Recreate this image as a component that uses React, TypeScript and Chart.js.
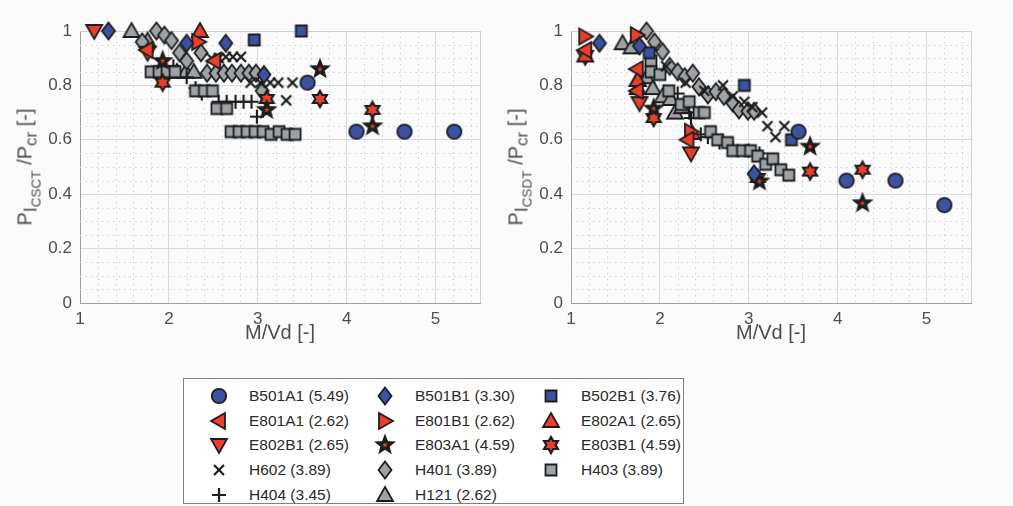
import React, { useEffect, useRef } from 'react';
import { Chart, registerables } from 'chart.js';
Chart.register(...registerables);

const FONT = '"Liberation Sans", Arial, Helvetica, sans-serif';
const BLUE = '#3d51a3';
const RED = '#ea402b';
const GRAY = '#9da2a7';
const EDGE = '#1d1d1d';
const TICK = '#4d4d4d';
const GRID = '#d8dbdf';
const AXIS = '#9aa1a9';

type Pt = [number, number];

// ---- CSCT (left panel) ----
const B501A1_L: Pt[] = [[3.56, 0.81], [4.11, 0.63], [4.65, 0.63], [5.21, 0.63]];
const B501B1_L: Pt[] = [[1.32, 1.0], [2.2, 0.955], [2.64, 0.955], [3.07, 0.84]];
const B502B1_L: Pt[] = [[2.96, 0.967], [3.49, 1.0]];
const E801A1_L: Pt[] = [[1.75, 0.93], [2.51, 0.89]];
const E801B1_L: Pt[] = [[2.33, 0.96]];
const E802A1_L: Pt[] = [[2.35, 1.0]];
const E802B1_L: Pt[] = [[1.16, 1.0], [1.76, 0.92]];
const E803A1_L: Pt[] = [[1.93, 0.89], [3.1, 0.71], [3.7, 0.86], [4.29, 0.65]];
const E803B1_L: Pt[] = [[1.93, 0.81], [3.1, 0.75], [3.7, 0.75], [4.29, 0.71]];
const H602_L: Pt[] = [[2.48, 0.9], [2.56, 0.9], [2.64, 0.905], [2.72, 0.905], [2.81, 0.905], [2.92, 0.81], [3.03, 0.81], [3.14, 0.81], [3.23, 0.81], [3.39, 0.81], [3.32, 0.745]];
const H401_L: Pt[] = [[1.7, 0.96], [1.86, 1.0], [1.95, 0.985], [2.03, 0.965], [2.12, 0.92], [2.2, 0.89], [2.36, 0.92], [2.43, 0.845], [2.53, 0.845], [2.62, 0.845], [2.71, 0.845], [2.81, 0.845], [2.9, 0.845], [2.98, 0.845], [3.05, 0.78]];
const H403_L: Pt[] = [[1.8, 0.85], [1.89, 0.85], [1.98, 0.85], [2.07, 0.85], [2.3, 0.78], [2.4, 0.78], [2.49, 0.78], [2.54, 0.715], [2.65, 0.715], [2.7, 0.63], [2.79, 0.63], [2.88, 0.63], [2.97, 0.63], [3.06, 0.63], [3.15, 0.62], [3.24, 0.63], [3.33, 0.62], [3.42, 0.62]];
const H404_L: Pt[] = [[1.93, 0.87], [2.05, 0.87], [2.2, 0.83], [2.3, 0.79], [2.37, 0.77], [2.56, 0.74], [2.65, 0.74], [2.75, 0.74], [2.84, 0.74], [2.93, 0.74], [2.99, 0.685]];
const H121_L: Pt[] = [[1.58, 1.0], [1.76, 0.965], [2.09, 0.85], [2.19, 0.85], [2.28, 0.85]];

// ---- CSDT (right panel) ----
const B501A1_R: Pt[] = [[3.56, 0.63], [4.1, 0.45], [4.65, 0.45], [5.2, 0.36]];
const B501B1_R: Pt[] = [[1.32, 0.955], [1.77, 0.945], [3.06, 0.475]];
const B502B1_R: Pt[] = [[1.88, 0.92], [2.95, 0.8], [3.48, 0.6]];
const E801A1_R: Pt[] = [[1.16, 0.93], [1.74, 0.86], [1.74, 0.78], [2.31, 0.6]];
const E801B1_R: Pt[] = [[1.16, 0.98], [1.74, 0.985], [2.35, 0.63]];
const E802A1_R: Pt[] = [[1.16, 0.91], [1.75, 0.82], [2.36, 0.625]];
const E802B1_R: Pt[] = [[1.16, 0.905], [1.77, 0.735], [2.35, 0.55]];
const E803A1_R: Pt[] = [[1.93, 0.715], [3.12, 0.447], [3.69, 0.575], [4.28, 0.367]];
const E803B1_R: Pt[] = [[1.93, 0.68], [3.1, 0.46], [3.69, 0.483], [4.28, 0.49]];
const H602_R: Pt[] = [[2.07, 0.87], [2.29, 0.81], [2.5, 0.78], [2.71, 0.8], [2.82, 0.76], [2.95, 0.74], [3.04, 0.72], [3.15, 0.7], [3.21, 0.65], [3.3, 0.61], [3.4, 0.65]];
const H401_R: Pt[] = [[1.85, 1.0], [1.94, 0.96], [2.03, 0.924], [2.11, 0.87], [2.2, 0.85], [2.28, 0.832], [2.37, 0.845], [2.44, 0.795], [2.54, 0.765], [2.63, 0.777], [2.72, 0.76], [2.82, 0.735], [2.89, 0.71], [2.99, 0.705], [3.06, 0.705]];
const H403_R: Pt[] = [[1.9, 0.89], [1.9, 0.85], [2.0, 0.84], [2.1, 0.78], [2.24, 0.73], [2.33, 0.74], [2.44, 0.7], [2.5, 0.7], [2.57, 0.63], [2.65, 0.6], [2.76, 0.59], [2.82, 0.56], [2.93, 0.56], [3.02, 0.56], [3.1, 0.54], [3.19, 0.51], [3.27, 0.53], [3.36, 0.49], [3.45, 0.47]];
const H404_R: Pt[] = [[1.92, 0.93], [2.05, 0.85], [2.2, 0.77], [2.33, 0.7], [2.35, 0.68], [2.46, 0.62], [2.54, 0.61], [2.67, 0.59], [2.82, 0.57], [3.0, 0.56], [3.12, 0.55]];
const H121_R: Pt[] = [[1.58, 0.955], [1.68, 0.94], [1.75, 0.82], [1.75, 0.79], [1.85, 0.83], [1.92, 0.79], [2.03, 0.76], [2.12, 0.75], [2.17, 0.7], [2.25, 0.72]];

const X_TICKS = [1, 2, 3, 4, 5];
const Y_TICKS = [0, 0.2, 0.4, 0.6, 0.8, 1];

type Series = { name: string; shape: string; fill: string; left: Pt[]; right: Pt[] };
const SERIES: Series[] = [
  { name: 'B501A1 (5.49)', shape: 'circle', fill: BLUE, left: B501A1_L, right: B501A1_R },
  { name: 'B501B1 (3.30)', shape: 'diamond', fill: BLUE, left: B501B1_L, right: B501B1_R },
  { name: 'B502B1 (3.76)', shape: 'square', fill: BLUE, left: B502B1_L, right: B502B1_R },
  { name: 'E801A1 (2.62)', shape: 'triLeft', fill: RED, left: E801A1_L, right: E801A1_R },
  { name: 'E801B1 (2.62)', shape: 'triRight', fill: RED, left: E801B1_L, right: E801B1_R },
  { name: 'E802A1 (2.65)', shape: 'triUp', fill: RED, left: E802A1_L, right: E802A1_R },
  { name: 'E802B1 (2.65)', shape: 'triDown', fill: RED, left: E802B1_L, right: E802B1_R },
  { name: 'E803A1 (4.59)', shape: 'star', fill: RED, left: E803A1_L, right: E803A1_R },
  { name: 'E803B1 (4.59)', shape: 'hexagram', fill: RED, left: E803B1_L, right: E803B1_R },
  { name: 'H602 (3.89)', shape: 'x', fill: EDGE, left: H602_L, right: H602_R },
  { name: 'H401 (3.89)', shape: 'diamond', fill: GRAY, left: H401_L, right: H401_R },
  { name: 'H403 (3.89)', shape: 'square', fill: GRAY, left: H403_L, right: H403_R },
  { name: 'H404 (3.45)', shape: 'plus', fill: EDGE, left: H404_L, right: H404_R },
  { name: 'H121 (2.62)', shape: 'triUp', fill: GRAY, left: H121_L, right: H121_R },
];

function poly(g: CanvasRenderingContext2D, pts: number[][]) {
  g.beginPath();
  pts.forEach(([x, y], i) => (i ? g.lineTo(x, y) : g.moveTo(x, y)));
  g.closePath();
}
function starPts(n: number, ro: number, ri: number) {
  const pts: number[][] = [];
  for (let i = 0; i < 2 * n; i++) {
    const r = i % 2 ? ri : ro;
    const a = -Math.PI / 2 + (i * Math.PI) / n;
    pts.push([r * Math.cos(a), r * Math.sin(a)]);
  }
  return pts;
}

function makeMarker(shape: string, fill: string): HTMLCanvasElement {
  const S = 24;
  const c = document.createElement('canvas');
  c.width = S;
  c.height = S;
  const g = c.getContext('2d')!;
  g.translate(S / 2, S / 2);
  g.lineJoin = 'miter';
  g.strokeStyle = EDGE;
  g.fillStyle = fill;
  g.lineWidth = 1.8;
  const fs = () => { g.fill(); g.stroke(); };
  switch (shape) {
    case 'circle':
      g.beginPath(); g.arc(0, 0, 7.2, 0, Math.PI * 2); fs(); break;
    case 'square':
      g.beginPath(); g.rect(-5.5, -5.5, 11, 11); fs(); break;
    case 'diamond':
      poly(g, [[0, -8.5], [6.5, 0], [0, 8.5], [-6.5, 0]]); fs(); break;
    case 'triUp':
      poly(g, [[0, -8], [8, 6], [-8, 6]]); fs(); break;
    case 'triDown':
      poly(g, [[0, 8], [8, -6], [-8, -6]]); fs(); break;
    case 'triLeft':
      poly(g, [[-8, 0], [6, -8], [6, 8]]); fs(); break;
    case 'triRight':
      poly(g, [[8, 0], [-6, -8], [-6, 8]]); fs(); break;
    case 'star':
      g.fillStyle = EDGE; poly(g, starPts(5, 9, 3.8)); fs();
      g.fillStyle = fill; poly(g, starPts(5, 2.8, 1.2)); g.fill(); break;
    case 'hexagram':
      g.lineWidth = 2.2; poly(g, starPts(6, 8, 4.6)); fs(); break;
    case 'x':
      g.lineWidth = 2.2; g.beginPath();
      g.moveTo(-5, -5); g.lineTo(5, 5); g.moveTo(5, -5); g.lineTo(-5, 5); g.stroke(); break;
    case 'plus':
      g.lineWidth = 2.2; g.beginPath();
      g.moveTo(-7, 0); g.lineTo(7, 0); g.moveTo(0, -7); g.lineTo(0, 7); g.stroke(); break;
  }
  return c;
}

const minorGrid = {
  id: 'minorGrid',
  beforeDatasetsDraw(chart: any) {
    const { ctx, chartArea: a, scales } = chart;
    const xs = scales.x, ys = scales.y;
    ctx.save();
    ctx.strokeStyle = '#cfd2d6';
    ctx.lineWidth = 1;
    ctx.setLineDash([1.5, 4]);
    for (let i = 1; i < 23; i++) {
      if (i % 5 === 0) continue;
      const v = 1 + i * 0.2;
      if (v > 5.5) break;
      const px = Math.round(xs.getPixelForValue(v)) + 0.5;
      ctx.beginPath(); ctx.moveTo(px, a.top); ctx.lineTo(px, a.bottom); ctx.stroke();
    }
    for (let i = 1; i < 20; i++) {
      if (i % 4 === 0) continue;
      const py = Math.round(ys.getPixelForValue(i * 0.05)) + 0.5;
      ctx.beginPath(); ctx.moveTo(a.left, py); ctx.lineTo(a.right, py); ctx.stroke();
    }
    ctx.setLineDash([]);
    ctx.strokeStyle = '#cdd1d6';
    ctx.beginPath();
    ctx.moveTo(a.left, Math.round(a.top) + 0.5); ctx.lineTo(a.right, Math.round(a.top) + 0.5);
    ctx.moveTo(Math.round(a.right) + 0.5, a.top); ctx.lineTo(Math.round(a.right) + 0.5, a.bottom);
    ctx.stroke();
    ctx.restore();
  },
};

function buildChart(canvas: HTMLCanvasElement, side: 'L' | 'R', markers: HTMLCanvasElement[], yWidth: number, padRight: number) {
  const datasets = SERIES.map((s, i) => ({
    label: s.name,
    data: (side === 'L' ? s.left : s.right).map(([x, y]) => ({ x, y })),
    pointStyle: markers[i],
    pointRadius: 6,
    pointHoverRadius: 6,
    showLine: false,
    clip: false as any,
  }));
  return new Chart(canvas, {
    type: 'scatter',
    data: { datasets },
    options: {
      animation: false,
      responsive: false,
      events: [],
      layout: { padding: { top: 31, right: padRight, left: 0, bottom: 0 } },
      plugins: { legend: { display: false }, tooltip: { enabled: false } },
      scales: {
        x: {
          type: 'linear', min: 1, max: 5.5,
          afterBuildTicks: (s: any) => { s.ticks = X_TICKS.map((value) => ({ value })); },
          afterFit: (s: any) => { s.height = 47; },
          ticks: { color: TICK, font: { family: FONT, size: 17 }, padding: 6, maxRotation: 0, autoSkip: false },
          grid: { color: GRID, drawTicks: false, lineWidth: 1 },
          border: { color: AXIS, width: 1 },
          title: { display: true, text: 'M/Vd [-]', color: TICK, font: { family: FONT, size: 20 }, padding: { top: 0, bottom: 5 } },
        },
        y: {
          type: 'linear', min: 0, max: 1,
          afterBuildTicks: (s: any) => { s.ticks = Y_TICKS.map((value) => ({ value })); },
          afterFit: (s: any) => { s.width = yWidth; },
          ticks: { color: TICK, font: { family: FONT, size: 17 }, padding: 8, callback: (v: any) => String(Math.round(Number(v) * 10) / 10) },
          grid: { color: GRID, drawTicks: false, lineWidth: 1 },
          border: { color: AXIS, width: 1 },
        },
      },
    } as any,
    plugins: [minorGrid],
  });
}

function YTitle({ sub, left }: { sub: string; left: number }) {
  return (
    <div
      style={{
        position: 'absolute', left, top: 167, transform: 'translate(-50%, -50%) rotate(-90deg)',
        whiteSpace: 'nowrap', fontFamily: FONT, fontSize: 20, color: TICK, lineHeight: '24px',
      }}
    >
      P
      <span style={{ fontSize: '0.9em', position: 'relative', top: '0.3em' }}>
        I
        <span style={{ fontSize: '0.75em', position: 'relative', top: '0.25em' }}>{sub}</span>
      </span>
      {' /P'}
      <span style={{ fontSize: '0.85em', position: 'relative', top: '0.3em' }}>cr</span>
      {' [-]'}
    </div>
  );
}

export default function App() {
  const leftRef = useRef<HTMLCanvasElement>(null);
  const rightRef = useRef<HTMLCanvasElement>(null);
  const [icons, setIcons] = React.useState<string[]>([]);

  useEffect(() => {
    const markers = SERIES.map((s) => makeMarker(s.shape, s.fill));
    setIcons(markers.map((m) => m.toDataURL()));
    const c1 = buildChart(leftRef.current!, 'L', markers, 80, 20);
    const c2 = buildChart(rightRef.current!, 'R', markers, 71, 42);
    return () => { c1.destroy(); c2.destroy(); };
  }, []);

  return (
    <div style={{ position: 'fixed', left: 0, top: 0, width: 1013, height: 506, background: '#fbfbfb', overflow: 'hidden' }}>
      <canvas ref={leftRef} width={500} height={350} style={{ position: 'absolute', left: 0, top: 0, width: 500, height: 350 }} />
      <canvas ref={rightRef} width={513} height={350} style={{ position: 'absolute', left: 500, top: 0, width: 513, height: 350 }} />
      <YTitle sub="CSCT" left={26} />
      <YTitle sub="CSDT" left={517} />
      <div
        style={{
          position: 'absolute', left: 183, top: 378, width: 499, height: 124, border: '1px solid #7d8187',
          background: '#ffffff', fontFamily: FONT, fontSize: 15.5, color: '#2a2a2a',
        }}
      >
        {SERIES.map((s, i) => {
          const row = Math.floor(i / 3);
          const col = i % 3;
          return (
            <div key={s.name} style={{ position: 'absolute', left: col * 166, top: 5 + row * 24.7, height: 24, width: 166 }}>
              {icons[i] && (
                <img src={icons[i]} width={24} height={24} style={{ position: 'absolute', left: 23, top: 0 }} />
              )}
              <span style={{ position: 'absolute', left: 65, top: 3, whiteSpace: 'nowrap' }}>{s.name}</span>
            </div>
          );
        })}
      </div>
    </div>
  );
}
